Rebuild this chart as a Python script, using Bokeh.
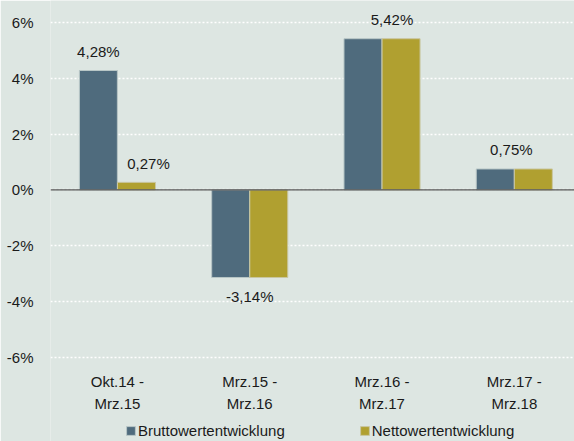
from bokeh.plotting import figure
from bokeh.models import ColumnDataSource, Range1d, Span, Legend, LegendItem, FixedTicker
from bokeh.core.properties import value
from bokeh.embed import file_html
from bokeh.resources import INLINE

# ---- data ----
cat_line1 = ["Okt.14 -", "Mrz.15 -", "Mrz.16 -", "Mrz.17 -"]
cat_line2 = ["Mrz.15", "Mrz.16", "Mrz.17", "Mrz.18"]
brutto = [4.28, -3.14, 5.42, 0.75]
netto = [0.27, -3.14, 5.42, 0.75]
series_names = ["Bruttowertentwicklung", "Nettowertentwicklung"]
y_ticks = [-6, -4, -2, 0, 2, 4, 6]

# ---- style ----
BG = "#dde6e2"
C_BRUTTO = "#4f6b7d"
C_NETTO = "#b0a030"
FONT = "Liberation Sans"
FS = "15px"
TXT = "#1a1a1a"
BAR_W = 0.287
OFF = 0.144

# frame spans the full height; category labels and legend sit in its lower part
p = figure(frame_width=524, frame_height=441, output_backend="svg", toolbar_location=None,
           x_range=Range1d(-0.506, 3.455), y_range=Range1d(-9.02, 6.79),
           x_axis_location=None)
p.background_fill_color = BG
p.border_fill_color = BG
p.outline_line_color = None
p.min_border_left = 50
p.min_border_right = 0
p.min_border_top = 0
p.min_border_bottom = 0

idx = list(range(len(cat_line1)))
src_b = ColumnDataSource(dict(x=[i - OFF for i in idx], top=brutto))
src_n = ColumnDataSource(dict(x=[i + OFF for i in idx], top=netto))
rb = p.vbar(x="x", top="top", bottom=0, width=BAR_W, source=src_b,
            fill_color=C_BRUTTO, line_color="#b8c6c6", line_width=1)
rn = p.vbar(x="x", top="top", bottom=0, width=BAR_W, source=src_n,
            fill_color=C_NETTO, line_color="#c9c6a0", line_width=1)

# zero line
p.add_layout(Span(location=0, dimension="width", line_color="#555555", line_width=1.2))

# data labels
def fmt(v):
    return f"{v:.2f}".replace(".", ",") + "%"

lx, ly, lt, ldy = [], [], [], []
for i in idx:
    b, n = brutto[i], netto[i]
    if b == n:
        pairs = [(i, b)]
    else:
        pairs = [(i - OFF, b), (i + OFF, n)]
    for x, v in pairs:
        lx.append(x)
        ly.append(v)
        lt.append(fmt(v))
        ldy.append(-19 if v >= 0 else 19)
nudge = [0, 12, 0, 10, -3]
p.text(x=lx, y=ly, text=lt, x_offset=nudge, y_offset=ldy,
       text_align="center", text_baseline="middle",
       text_font=value(FONT), text_font_size=FS, text_color=TXT)

# category labels (two lines) under the lowest gridline
y_base = min(y_ticks)
p.text(x=idx, y=[y_base] * len(idx), text=cat_line1, y_offset=24,
       text_align="center", text_baseline="middle",
       text_font=value(FONT), text_font_size=FS, text_color=TXT)
p.text(x=idx, y=[y_base] * len(idx), text=cat_line2, y_offset=46,
       text_align="center", text_baseline="middle",
       text_font=value(FONT), text_font_size=FS, text_color=TXT)

p.yaxis.ticker = FixedTicker(ticks=y_ticks)
p.yaxis.major_label_overrides = {t: f"{t}%" for t in y_ticks}
p.yaxis.axis_line_color = None
p.yaxis.major_tick_line_color = None
p.yaxis.minor_tick_line_color = None
p.yaxis.major_tick_out = 0
p.yaxis.major_label_standoff = 17
p.yaxis.major_label_text_font = FONT
p.yaxis.major_label_text_font_size = FS
p.yaxis.major_label_text_color = TXT

p.xgrid.grid_line_color = None
p.ygrid.ticker = FixedTicker(ticks=y_ticks)
p.ygrid.grid_line_color = "white"
p.ygrid.grid_line_width = 1.5
p.ygrid.grid_line_dash = "2 2"

legend = Legend(items=[LegendItem(label=series_names[0], renderers=[rb]),
                       LegendItem(label=series_names[1], renderers=[rn])],
                orientation="horizontal", location=(75, 2),
                spacing=74, padding=0, margin=0,
                glyph_width=11, glyph_height=11, label_standoff=2,
                label_height=14,
                label_text_font=FONT, label_text_font_size=FS,
                label_text_color=TXT,
                background_fill_alpha=0, border_line_alpha=0)
p.add_layout(legend, "center")

open("out.html", "w").write(file_html(p, INLINE))
